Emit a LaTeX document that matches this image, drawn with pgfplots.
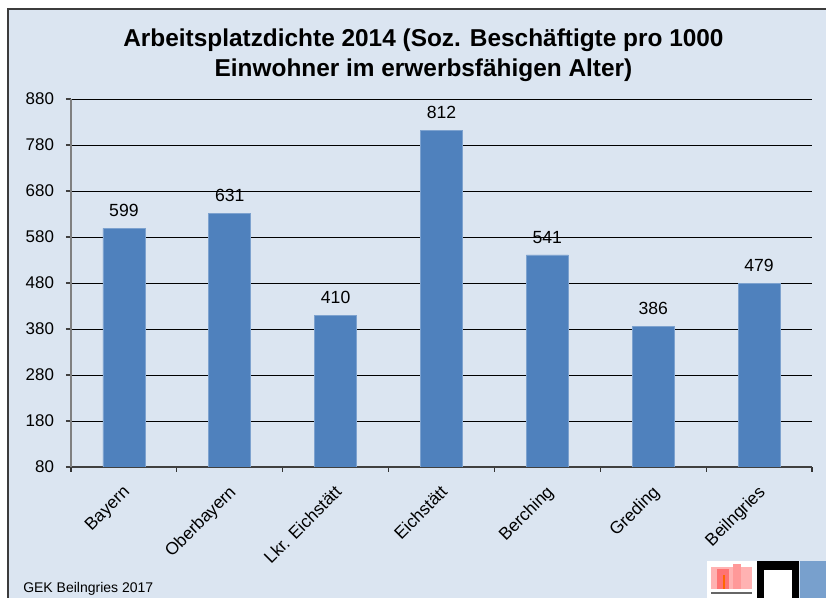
\documentclass[border=0pt]{standalone}
\usepackage{fontspec}
\setmainfont{Liberation Sans}
\usepackage{pgfplots}
\pgfplotsset{compat=1.18}
\definecolor{bgc}{RGB}{219,229,241}
\definecolor{barc}{RGB}{79,129,189}
\definecolor{baredge}{RGB}{125,162,207}
\definecolor{frame}{RGB}{60,60,60}
\definecolor{logoblue}{RGB}{120,160,205}
\begin{document}
\begin{tikzpicture}
\useasboundingbox (0,0) rectangle (619.5pt,-448.5pt);
\clip (0,0) rectangle (619.5pt,-448.5pt);
\fill[white] (0,0) rectangle (619.5pt,-448.5pt);
\filldraw[fill=bgc, draw=frame, line width=1.1pt] (6pt,-6.75pt) rectangle (640pt,-470pt);
\node[anchor=base, font=\bfseries\fontsize{18.3}{22}\selectfont] at (317.6pt,-35.25pt) {Arbeitsplatzdichte 2014 (Soz. Beschäftigte pro 1000};
\node[anchor=base, font=\bfseries\fontsize{18.3}{22}\selectfont] at (317.6pt,-57.75pt) {Einwohner im erwerbsfähigen Alter)};
\begin{axis}[
  at={(53.25pt,-350.25pt)}, anchor=south west,
  scale only axis, width=555.75pt, height=276pt,
  ymin=80, ymax=880, ytick={80,180,...,880},
  xmin=-0.5, xmax=6.5,
  xtick={0,...,6},
  xticklabels={Bayern,Oberbayern,Lkr. Eichstätt,Eichstätt,Berching,Greding,Beilngries},
  minor xtick={-0.5,0.5,...,6.5},
  major x tick style={draw=none},
  minor tick length=3.75pt,
  major tick length=3.75pt,
  tick align=outside, tick pos=left,
  axis x line*=bottom, axis y line*=left,
  x axis line style={draw=black!75, line width=1pt, -},
  y axis line style={draw=black!50, line width=1.1pt, -},
  ymajorgrids, grid style={draw=black, line width=0.6pt},
  y tick style={draw=black!75, line width=0.8pt},
  minor x tick style={draw=black!80, line width=0.8pt},
  /pgf/number format/assume math mode=true,
  yticklabel style={font=\fontsize{12.7}{15}\selectfont, xshift=-5.5pt},
  xticklabel style={font=\fontsize{13}{15}\selectfont, xshift=-1.5pt, yshift=-9pt, rotate=45, anchor=north east, inner sep=0pt},
  ybar, bar width=31.5pt,
  nodes near coords,
  nodes near coords style={font=\fontsize{13.2}{15}\selectfont, anchor=south, inner sep=0pt, yshift=8.5pt, /pgf/number format/assume math mode=true},
  axis background/.style={fill=bgc},
]
\addplot[fill=barc, draw=baredge, line width=0.5pt, bar shift=0pt] coordinates {
(0,599) (1,631) (2,410) (3,812) (4,541) (5,386) (6,479)};
\end{axis}
\node[anchor=base west, font=\fontsize{10.5}{12}\selectfont, inner sep=0pt] at (17.25pt,-444.75pt) {GEK Beilngries 2017};
% logos (approximate)
\fill[white] (530.25pt,-420.75pt) rectangle (567.75pt,-450pt);
\fill[red!30!white] (533pt,-425pt) rectangle (564pt,-442pt);
\fill[red!55!white] (538pt,-427pt) rectangle (547pt,-442pt);
\fill[orange!80!red] (542pt,-431pt) rectangle (544pt,-442pt);
\fill[red!40!white] (550pt,-423pt) rectangle (556pt,-442pt);
\fill[black!60] (533pt,-444pt) rectangle (564pt,-445.5pt);
\fill[black] (567.75pt,-420.75pt) rectangle (599.25pt,-450pt);
\fill[white] (573pt,-427.5pt) rectangle (594pt,-450pt);
\fill[logoblue] (600pt,-420.75pt) rectangle (625pt,-450pt);
\end{tikzpicture}
\end{document}
